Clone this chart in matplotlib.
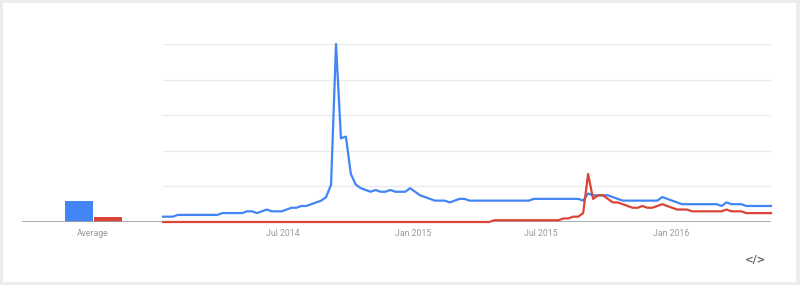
"""Google Trends style interest-over-time chart, two search terms."""
import matplotlib
matplotlib.use("Agg")
import matplotlib.pyplot as plt
import pandas as pd
from matplotlib.patches import Rectangle

# weekly interest values (0-100), starting 2014-01-12
blue_series = (
    [3, 3, 3] + [4] * 9 + [5] * 5
    + [6, 6, 5, 6, 7, 6, 6, 6, 7, 8, 8, 9, 9, 10, 11, 12, 14, 21, 100, 47, 48, 27, 21, 19, 18, 17,
       18, 17, 17, 18, 17, 17, 17, 19, 17, 15, 14, 13, 12, 12, 12, 11, 12, 13, 13, 12]
    + [12] * 12 + [13] * 10
    + [12, 16, 15, 15, 15, 15, 14, 13, 12]
    + [12] * 7
    + [14, 13, 12, 11, 10]
    + [10] * 7
    + [9, 11, 10, 10, 10]
    + [9] * 6
)
red_series = (
    [0] * 67 + [1] * 14
    + [2, 2, 3, 3, 5, 27, 13, 15, 15, 13, 11, 11, 10, 9, 8, 8, 9, 8, 8, 9, 10, 9, 8, 7, 7, 7, 6]
    + [6] * 6
    + [7, 6, 6, 6]
    + [5] * 6
)
averages = [12, 3]
avg_label = "Average"
tick_dates = ["2014-07-01", "2015-01-01", "2015-07-01", "2016-01-01"]
tick_labels = ["Jul 2014", "Jan 2015", "Jul 2015", "Jan 2016"]

BLUE = "#4285f4"
RED = "#db4437"
GRID = "#ebebeb"
AXIS = "#9e9e9e"
TEXT = "#9a9a9a"

dates = pd.date_range("2014-01-12", periods=len(blue_series), freq="7D")

plt.rcParams["font.family"] = ["Roboto", "DejaVu Sans"]

W, H = 800, 285
fig = plt.figure(figsize=(W / 100, H / 100), dpi=100, facecolor="#ececec")
fig.patches.append(Rectangle((3 / W, 3 / H), 793 / W, 279 / H, transform=fig.transFigure,
                             facecolor="white", edgecolor="none", zorder=-10))

# main time-series axes
ax = fig.add_axes([163 / W, 1 - 222 / H, 608 / W, 178 / H])
ax.set_facecolor("none")
ax.set_ylim(0, 100)
ax.set_xlim(dates[0], dates[-1])
for v in (20, 40, 60, 80, 100):
    ax.axhline(v, color=GRID, lw=1, zorder=1)
ax.axhline(0, color=AXIS, lw=1.2, zorder=1)
ax.plot(dates, blue_series, color=BLUE, lw=1.6, zorder=3, clip_on=False)
ax.plot(dates, red_series, color=RED, lw=1.6, zorder=4, clip_on=False)
ax.set_xticks(pd.to_datetime(tick_dates))
ax.set_xticklabels(tick_labels)
ax.tick_params(axis="x", length=0, pad=5, labelsize=6.3, labelcolor=TEXT)
ax.set_yticks([])
for s in ax.spines.values():
    s.set_visible(False)

# averages bar axes
bx = fig.add_axes([22 / W, 1 - 222 / H, 141 / W, 178 / H])
bx.set_facecolor("none")
bx.set_ylim(0, 100)
bx.set_xlim(-1.95, 2.91)
bx.bar([0, 1], averages, width=0.965, color=[BLUE, RED], zorder=2)
bx.axhline(0, color=AXIS, lw=1.2, zorder=3)
bx.set_xticks([0.5])
bx.set_xticklabels([avg_label])
bx.tick_params(axis="x", length=0, pad=5, labelsize=6.3, labelcolor=TEXT)
bx.set_yticks([])
for s in bx.spines.values():
    s.set_visible(False)

# embed icon
fig.text(755 / W, 1 - 260 / H, "</>", ha="center", va="center", fontsize=7.5,
         fontweight="bold", color="#666666", family=["DejaVu Sans"])

fig.savefig("out.png", dpi=100, facecolor=fig.get_facecolor())
